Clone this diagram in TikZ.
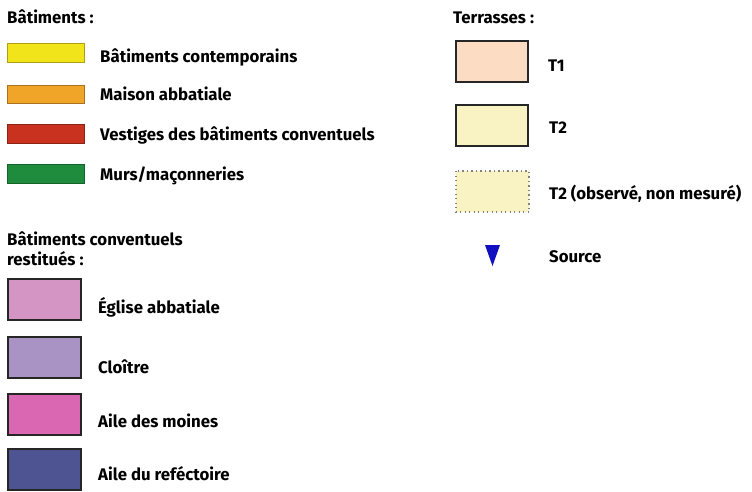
\documentclass[tikz,border=0pt]{standalone}
\usepackage{fontspec}
\setmainfont{Fira Sans}
\begin{document}
\begin{tikzpicture}[x=1pt,y=-1pt,
  lab/.style={anchor=base west,inner sep=0pt,font=\bfseries\fontsize{16.8}{20}\selectfont},
  bar/.style={draw=#1!70!black,fill=#1,line width=0.8pt},
  pbox/.style={draw=black!85,fill=#1,line width=1.4pt},
  tbox/.style={draw=black!85,fill=#1,line width=1.4pt}]
\definecolor{cyel}{HTML}{F2E41A}
\definecolor{cora}{HTML}{F0A528}
\definecolor{cred}{HTML}{C8321E}
\definecolor{cgre}{HTML}{1E8C3C}
\definecolor{cegl}{HTML}{D495C5}
\definecolor{cclo}{HTML}{A992C4}
\definecolor{cmoi}{HTML}{DA67B2}
\definecolor{cref}{HTML}{4E5491}
\definecolor{ctone}{HTML}{FCDCC2}
\definecolor{cttwo}{HTML}{F9F2C2}
\definecolor{cblue}{HTML}{1010C0}
\useasboundingbox (0,0) rectangle (752,491);
% left column
\node[lab] (hbat) at (7,23) {Bâtiments :};
\path[bar=cyel] (7,43) rectangle (84,62);
\node[lab] (l1) at (100,62) {Bâtiments contemporains};
\path[bar=cora] (7,85) rectangle (84,103);
\node[lab] (l2) at (100,100) {Maison abbatiale};
\path[bar=cred] (7,124) rectangle (84,143);
\node[lab] (l3) at (100,140) {Vestiges des bâtiments conventuels};
\path[bar=cgre] (7,164) rectangle (84,183);
\node[lab] (l4) at (100,180) {Murs/maçonneries};
\node[lab] (hres1) at (7,245) {Bâtiments conventuels};
\node[lab] (hres2) at (7,265) {restitués :};
\path[pbox=cegl] (8,279) rectangle (81,320);
\node[lab] (p1) at (98,313) {Église abbatiale};
\path[pbox=cclo] (8,337) rectangle (81,378);
\node[lab] (p2) at (98,373) {Cloître};
\path[pbox=cmoi] (8,394) rectangle (81,435);
\node[lab] (p3) at (98,427) {Aile des moines};
\path[pbox=cref] (8,449) rectangle (81,490);
\node[lab] (p4) at (98,480) {Aile du reféctoire};
% right column
\node[lab] (hter) at (453,23) {Terrasses :};
\path[tbox=ctone] (456,41) rectangle (528,82);
\node[lab] (t1) at (548,71) {T1};
\path[tbox=cttwo] (456,105) rectangle (528,146);
\node[lab] (t2) at (549,133) {T2};
\path[fill=cttwo,draw=black!50,line width=1.3pt,dash pattern=on 1.3pt off 3.2pt] (456,171) rectangle (529,212);
\node[lab] (t3) at (549,199) {T2 (observé, non mesuré)};
\path[fill=cblue] (485,245) -- (500,245) -- (492.5,266) -- cycle;
\node[lab] (src) at (549,262) {Source};
\end{tikzpicture}
\end{document}
